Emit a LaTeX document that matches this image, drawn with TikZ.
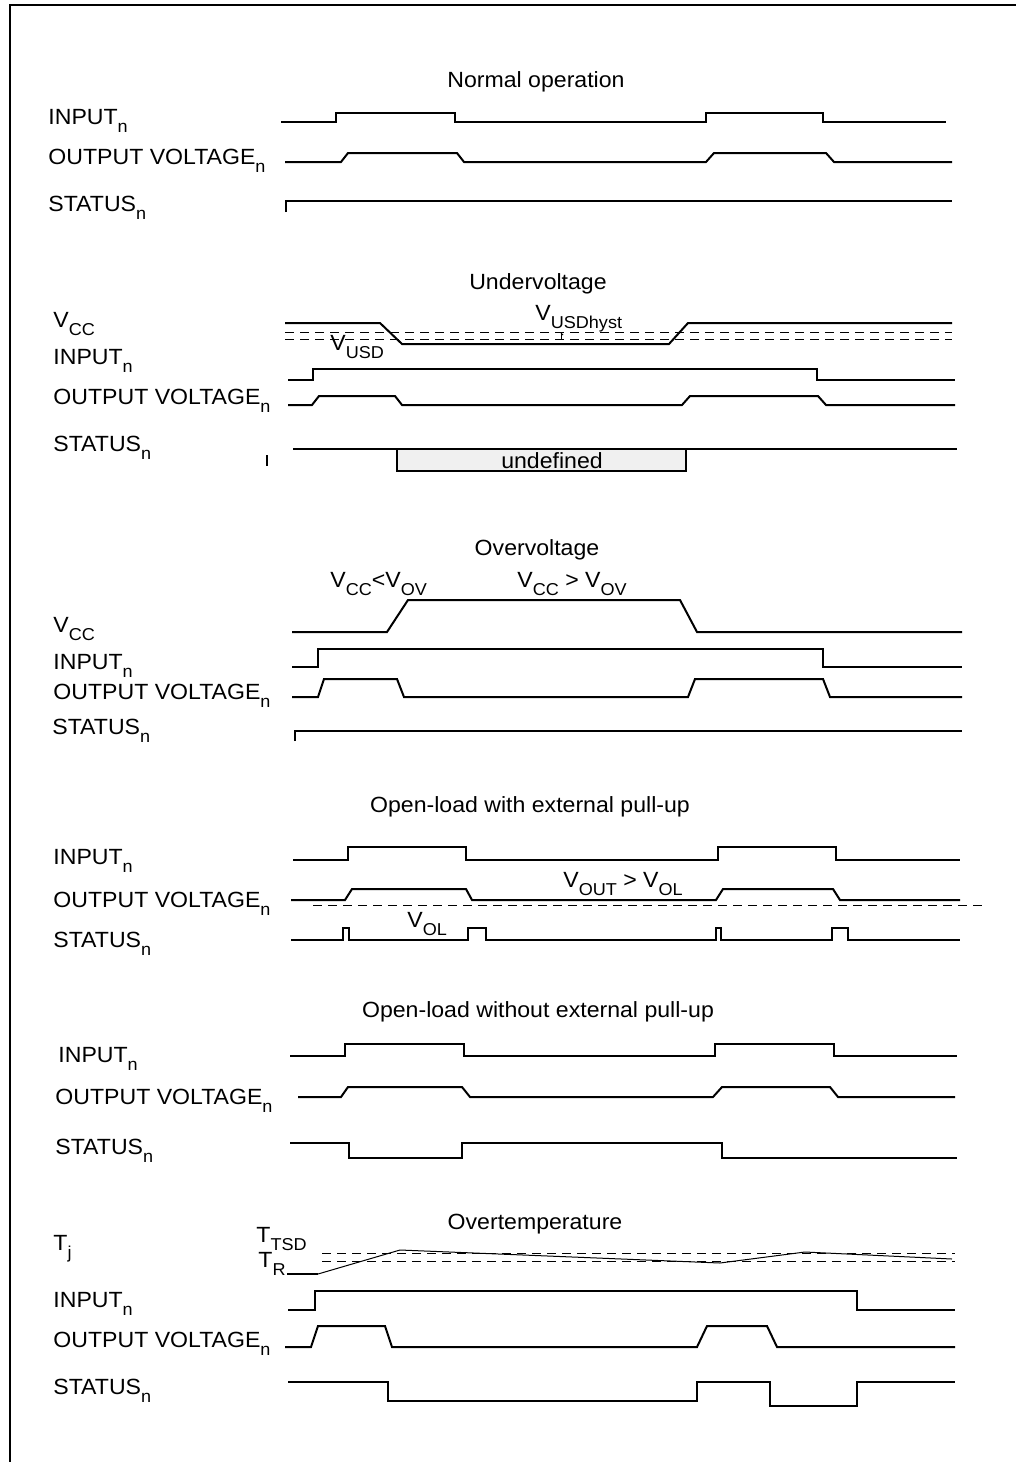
\documentclass[tikz,border=0pt]{standalone}
\usepackage{fontspec}
\setmainfont{Liberation Sans}[FakeStretch=1.05]
\newcommand{\subx}[1]{\raisebox{-4.2pt}{\fontsize{8.6}{9}\selectfont #1}}
\begin{document}
\begin{tikzpicture}[x=0.5pt,y=-0.5pt,
  lbl/.style={anchor=base west,inner sep=0pt,font=\fontsize{11}{12}\selectfont},
  ttl/.style={anchor=base,inner sep=0pt,font=\fontsize{11}{12}\selectfont},
  wave/.style={line width=1pt,line join=miter},
  thinwave/.style={line width=0.5pt},
  ref/.style={line width=0.5pt,dash pattern=on 4.5pt off 3pt},
  frame/.style={line width=1.2pt}]
\useasboundingbox (0,0) rectangle (1016,1462);
\draw[frame] (10,1462) -- (10,5) -- (1016,5);

% ---------- Normal operation ----------
\node[ttl] (t1) at (536,87) {Normal operation};
\node[lbl] (in1) at (48,124) {INPUT\subx{n}};
\node[lbl] (ou1) at (48,164) {OUTPUT VOLTAGE\subx{n}};
\node[lbl] (st1) at (48,211) {STATUS\subx{n}};
\draw[wave] (281,122) -- (336,122) -- (336,113) -- (455,113) -- (455,122) -- (706,122) -- (706,113) -- (823,113) -- (823,122) -- (946,122);
\draw[wave] (285,162) -- (341,162) -- (348,153) -- (457,153) -- (464,162) -- (706,162) -- (714,153) -- (826,153) -- (834,162) -- (952,162);
\draw[wave] (286,212) -- (286,201) -- (952,201);

% ---------- Undervoltage ----------
\node[ttl] (t2) at (538,289) {Undervoltage};
\node[lbl] (vc2) at (53,327) {V\subx{CC}};
\node[lbl] (in2) at (53,364) {INPUT\subx{n}};
\node[lbl] (ou2) at (53,404) {OUTPUT VOLTAGE\subx{n}};
\node[lbl] (st2) at (53,451) {STATUS\subx{n}};
\draw[ref] (285,332) -- (952,332);
\draw[ref] (285,339) -- (952,339);
\draw[wave] (285,323) -- (380,323) -- (402,344) -- (669,344) -- (688,323) -- (952,323);
\node[lbl] (vusd) at (330,350) {V\subx{USD}};
\node[lbl] (vhy) at (535,320) {V\subx{USDhyst}};
\draw[line width=0.5pt] (561,333) -- (561,339);
\draw[line width=0.5pt] (561,333) -- (563,335);
\draw[wave] (288,380) -- (313,380) -- (313,369) -- (817,369) -- (817,380) -- (955,380);
\draw[wave] (288,405) -- (312,405) -- (319,396) -- (395,396) -- (402,405) -- (682,405) -- (690,396) -- (818,396) -- (826,405) -- (955,405);
\draw[line width=0.8pt,fill=black!6] (397,449) -- (397,471) -- (686,471) -- (686,449);
\node[inner sep=0pt,font=\fontsize{11}{12}\selectfont] (und) at (552,461) {undefined};
\draw[wave] (293,449) -- (957,449);
\draw[line width=0.8pt] (267,455) -- (267,466);

% ---------- Overvoltage ----------
\node[ttl] (t3) at (537,555) {Overvoltage};
\node[lbl] (c3a) at (330,587) {V\subx{CC}<V\subx{OV}};
\node[lbl] (c3b) at (517,587) {V\subx{CC} > V\subx{OV}};
\node[lbl] (vc3) at (53,632) {V\subx{CC}};
\node[lbl] (in3) at (53,669) {INPUT\subx{n}};
\node[lbl] (ou3) at (53,699) {OUTPUT VOLTAGE\subx{n}};
\node[lbl] (st3) at (52,734) {STATUS\subx{n}};
\draw[wave] (292,632) -- (387,632) -- (408,600) -- (680,600) -- (697,632) -- (962,632);
\draw[wave] (292,667) -- (318,667) -- (318,649) -- (823,649) -- (823,667) -- (962,667);
\draw[wave] (292,697) -- (318,697) -- (324,679) -- (397,679) -- (404,697) -- (688,697) -- (695,679) -- (823,679) -- (830,697) -- (962,697);
\draw[wave] (295,741) -- (295,731) -- (962,731);

% ---------- Open-load with external pull-up ----------
\node[ttl] (t4) at (530,812) {Open-load with external pull-up};
\node[lbl] (in4) at (53,864) {INPUT\subx{n}};
\node[lbl] (ou4) at (53,907) {OUTPUT VOLTAGE\subx{n}};
\node[lbl] (st4) at (53,947) {STATUS\subx{n}};
\draw[wave] (293,860) -- (348,860) -- (348,847) -- (466,847) -- (466,860) -- (718,860) -- (718,847) -- (836,847) -- (836,860) -- (960,860);
\draw[wave] (291,900) -- (345,900) -- (352,889) -- (466,889) -- (472,900) -- (716,900) -- (723,889) -- (833,889) -- (840,900) -- (960,900);
\draw[ref] (313,905) -- (985,905);
\node[lbl] (vout) at (563,887) {V\subx{OUT} > V\subx{OL}};
\node[lbl] (vol) at (407,927) {V\subx{OL}};
\draw[wave] (291,940) -- (343,940) -- (343,928) -- (349,928) -- (349,940) -- (468,940) -- (468,928) -- (486,928) -- (486,940) -- (716,940) -- (716,928) -- (721,928) -- (721,940) -- (832,940) -- (832,928) -- (848,928) -- (848,940) -- (960,940);

% ---------- Open-load without external pull-up ----------
\node[ttl] (t5) at (538,1017) {Open-load without external pull-up};
\node[lbl] (in5) at (58,1062) {INPUT\subx{n}};
\node[lbl] (ou5) at (55,1104) {OUTPUT VOLTAGE\subx{n}};
\node[lbl] (st5) at (55,1154) {STATUS\subx{n}};
\draw[wave] (290,1056) -- (345,1056) -- (345,1044) -- (464,1044) -- (464,1056) -- (715,1056) -- (715,1044) -- (834,1044) -- (834,1056) -- (957,1056);
\draw[wave] (298,1097) -- (341,1097) -- (348,1087) -- (462,1087) -- (470,1097) -- (713,1097) -- (722,1087) -- (830,1087) -- (838,1097) -- (955,1097);
\draw[wave] (290,1143) -- (349,1143) -- (349,1158) -- (462,1158) -- (462,1143) -- (722,1143) -- (722,1158) -- (957,1158);

% ---------- Overtemperature ----------
\node[ttl] (t6) at (535,1229) {Overtemperature};
\node[lbl] (tj) at (53,1250) {T\subx{j}};
\node[lbl] (ttsd) at (256,1242) {T\subx{TSD}};
\node[lbl] (tr) at (258,1267) {T\subx{R}};
\node[lbl] (in6) at (53,1307) {INPUT\subx{n}};
\node[lbl] (ou6) at (53,1347) {OUTPUT VOLTAGE\subx{n}};
\node[lbl] (st6) at (53,1394) {STATUS\subx{n}};
\draw[ref] (322,1253) -- (955,1253);
\draw[ref] (322,1261) -- (955,1261);
\draw[wave] (287,1274) -- (318,1274);
\draw[thinwave] (318,1274) -- (400,1250) -- (720,1263) -- (805,1252) -- (952,1259);
\draw[wave] (288,1310) -- (315,1310) -- (315,1291) -- (857,1291) -- (857,1310) -- (955,1310);
\draw[wave] (285,1347) -- (311,1347) -- (318,1326) -- (385,1326) -- (392,1347) -- (697,1347) -- (707,1326) -- (767,1326) -- (777,1347) -- (955,1347);
\draw[wave] (288,1382) -- (388,1382) -- (388,1401) -- (697,1401) -- (697,1382) -- (770,1382) -- (770,1406) -- (857,1406) -- (857,1382) -- (955,1382);
\end{tikzpicture}
\end{document}
